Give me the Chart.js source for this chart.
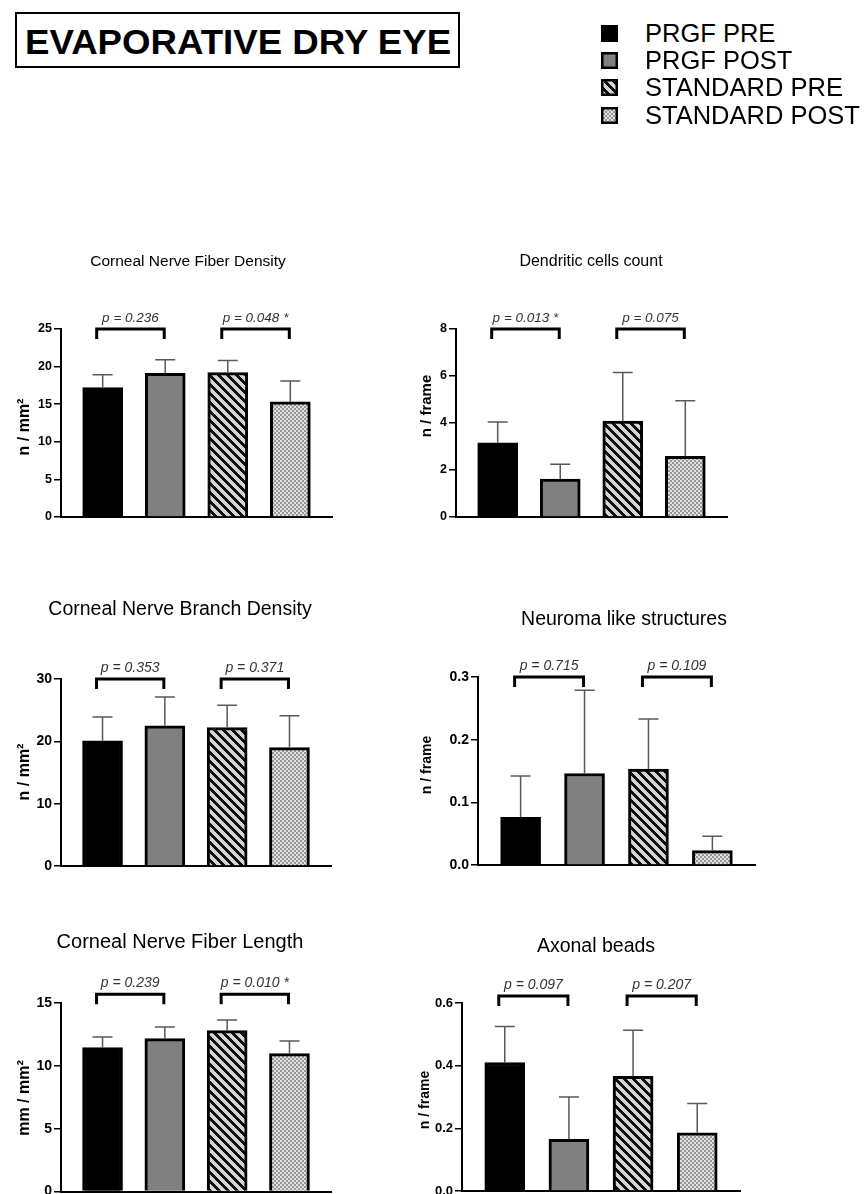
<!DOCTYPE html>
<html><head><meta charset="utf-8">
<script src="https://cdn.jsdelivr.net/npm/chart.js@4.4.1/dist/chart.umd.min.js"></script>
<style>
html,body{margin:0;padding:0;background:#fff;}
body{width:868px;height:1194px;overflow:hidden;position:relative;font-family:"Liberation Sans",Arial,Helvetica,sans-serif;}
#mainTitle{position:absolute;left:15px;top:12px;width:441px;height:52px;border:2px solid #000;overflow:hidden;}
#mainTitle span{position:absolute;left:0;top:50%;font-weight:bold;font-size:35px;white-space:nowrap;line-height:1;transform-origin:0 50%;}
.leg{position:absolute;left:601px;height:28px;display:flex;align-items:center;font-size:25.5px;white-space:nowrap;color:#000;}
.leg canvas{width:17px;height:17px;margin-right:27px;}
canvas.panel{position:absolute;}
</style></head>
<body>
<div id="mainTitle"><span id="mt">EVAPORATIVE DRY EYE</span></div>
<div id="legend"></div>
<canvas class="panel" id="c1"></canvas>
<canvas class="panel" id="c2"></canvas>
<canvas class="panel" id="c3"></canvas>
<canvas class="panel" id="c4"></canvas>
<canvas class="panel" id="c5"></canvas>
<canvas class="panel" id="c6"></canvas>
<script>
// ---------- DATA ----------
const groups = ['PRGF PRE', 'PRGF POST', 'STANDARD PRE', 'STANDARD POST'];

const cnfdMean = [17.2, 19.1, 19.2, 15.3];
const cnfdSD   = [1.7, 1.8, 1.6, 2.8];
const cnfdTicks = [0, 5, 10, 15, 20, 25];
const cnfdP = ['p = 0.236', 'p = 0.048 *'];

const dcMean = [3.16, 1.61, 4.08, 2.58];
const dcSD   = [0.88, 0.64, 2.07, 2.37];
const dcTicks = [0, 2, 4, 6, 8];
const dcP = ['p = 0.013 *', 'p = 0.075'];

const cnbdMean = [20.1, 22.5, 22.2, 19.0];
const cnbdSD   = [3.8, 4.6, 3.6, 5.1];
const cnbdTicks = [0, 10, 20, 30];
const cnbdP = ['p = 0.353', 'p = 0.371'];

const nlsMean = [0.076, 0.146, 0.153, 0.023];
const nlsSD   = [0.066, 0.133, 0.080, 0.023];
const nlsTicks = [0, 0.1, 0.2, 0.3];
const nlsP = ['p = 0.715', 'p = 0.109'];

const cnflMean = [11.45, 12.17, 12.8, 10.97];
const cnflSD   = [0.85, 0.93, 0.85, 1.01];
const cnflTicks = [0, 5, 10, 15];
const cnflP = ['p = 0.239', 'p = 0.010 *'];

const abMean = [0.41, 0.165, 0.366, 0.186];
const abSD   = [0.115, 0.135, 0.147, 0.093];
const abTicks = [0, 0.2, 0.4, 0.6];
const abP = ['p = 0.097', 'p = 0.207'];

const pairs = [[0, 1], [2, 3]];

// ---------- STYLE / LAYOUT ----------
const FONT = '"Liberation Sans", Arial, Helvetica, sans-serif';

function stripeTile() {
  const s = 9, c = document.createElement('canvas'); c.width = s; c.height = s;
  const x = c.getContext('2d'); const img = x.createImageData(s, s);
  for (let j = 0; j < s; j++) for (let i = 0; i < s; i++) {
    const d = ((i - j) % s + s) % s; const k = (j * s + i) * 4;
    const v = d < 4 ? 15 : 212;
    img.data[k] = img.data[k + 1] = img.data[k + 2] = v; img.data[k + 3] = 255;
  }
  x.putImageData(img, 0, 0); return c;
}
function checkerTile() {
  const c = document.createElement('canvas'); c.width = 4; c.height = 4;
  const x = c.getContext('2d');
  x.fillStyle = '#e2e2e2'; x.fillRect(0, 0, 4, 4);
  x.fillStyle = '#969696'; x.fillRect(0, 0, 2, 2); x.fillRect(2, 2, 2, 2);
  return c;
}
const sTile = stripeTile(), cTile = checkerTile();
function fillsFor(ctx) {
  return ['#000000', '#808080', ctx.createPattern(sTile, 'repeat'), ctx.createPattern(cTile, 'repeat')];
}

// main title fit
(function () {
  const sp = document.getElementById('mt');
  const w = sp.offsetWidth, h = sp.offsetHeight;
  const target = 426;
  sp.style.left = ((441 - target) / 2) + 'px';
  sp.style.marginTop = (-h / 2 + 1) + 'px';
  sp.style.transform = 'scaleX(' + (target / w) + ')';
})();

// legend
(function () {
  const lg = document.getElementById('legend');
  const centers = [33, 60, 87, 115];
  groups.forEach((g, i) => {
    const d = document.createElement('div'); d.className = 'leg'; d.style.top = (centers[i] - 14) + 'px';
    const c = document.createElement('canvas'); c.width = 17; c.height = 17;
    const x = c.getContext('2d');
    x.fillStyle = fillsFor(x)[i]; x.fillRect(0, 0, 17, 17);
    x.strokeStyle = '#000'; x.lineWidth = 2.5; x.strokeRect(1.25, 1.25, 14.5, 14.5);
    d.appendChild(c);
    const t = document.createElement('span'); t.textContent = g; d.appendChild(t);
    lg.appendChild(d);
  });
})();

const panels = [
  { id: 'c1', mean: cnfdMean, sd: cnfdSD, ticks: cnfdTicks, p: cnfdP, dec: 0, title: 'Corneal Nerve Fiber Density', ylab: 'n / mm²',
    cv: [0, 230, 345, 310], area: [61, 332, 329, 517], bracketAt: 25, titleXY: [188, 262], titleSize: 15.5, ylabXY: [25, 427], tickSize: 12.5, pSize: 13.5, ylabSize: 16 },
  { id: 'c2', mean: dcMean, sd: dcSD, ticks: dcTicks, p: dcP, dec: 0, title: 'Dendritic cells count', ylab: 'n / frame',
    cv: [400, 230, 468, 310], area: [456, 727, 329, 517], bracketAt: 8, titleXY: [591, 262], titleSize: 16, ylabXY: [427, 406], tickSize: 12.5, pSize: 13.5, ylabSize: 15 },
  { id: 'c3', mean: cnbdMean, sd: cnbdSD, ticks: cnbdTicks, p: cnbdP, dec: 0, title: 'Corneal Nerve Branch Density', ylab: 'n / mm²',
    cv: [0, 580, 345, 310], area: [61, 331, 679, 866], bracketAt: 30, titleXY: [180, 610], titleSize: 19.5, ylabXY: [25, 772], tickSize: 14, pSize: 14, ylabSize: 16 },
  { id: 'c4', mean: nlsMean, sd: nlsSD, ticks: nlsTicks, p: nlsP, dec: 1, title: 'Neuroma like structures', ylab: 'n / frame',
    cv: [400, 580, 468, 310], area: [478, 755, 677, 865], bracketAt: 0.3, titleXY: [624, 620], titleSize: 19.5, ylabXY: [427, 765], tickSize: 14, pSize: 14, ylabSize: 14 },
  { id: 'c5', mean: cnflMean, sd: cnflSD, ticks: cnflTicks, p: cnflP, dec: 0, title: 'Corneal Nerve Fiber Length', ylab: 'mm / mm²',
    cv: [0, 910, 345, 310], area: [61, 331, 1003, 1191.5], bracketAt: 15.7, titleXY: [180, 942], titleSize: 20, ylabXY: [25, 1098], tickSize: 14, pSize: 14, ylabSize: 16 },
  { id: 'c6', mean: abMean, sd: abSD, ticks: abTicks, p: abP, dec: 1, title: 'Axonal beads', ylab: 'n / frame',
    cv: [400, 910, 468, 310], area: [462, 740, 1003, 1191], bracketAt: 0.622, titleXY: [596, 947], titleSize: 19.5, ylabXY: [425, 1100], tickSize: 13, pSize: 14, ylabSize: 14 }
];

function decor(p) {
  const cl = p.cv[0], ct = p.cv[1];
  return {
    id: 'decor',
    afterDraw(chart) {
      const { ctx, scales: { x, y } } = chart;
      ctx.save();
      // error bars (mean + SD)
      ctx.strokeStyle = '#595959'; ctx.lineWidth = 1.5;
      p.mean.forEach((m, i) => {
        const cx = x.getPixelForValue(i + 1);
        const y0 = y.getPixelForValue(m), y1 = y.getPixelForValue(m + p.sd[i]);
        ctx.beginPath(); ctx.moveTo(cx, y0); ctx.lineTo(cx, y1);
        ctx.moveTo(cx - 10, y1); ctx.lineTo(cx + 10, y1); ctx.stroke();
      });
      // brackets + p values
      const yb = y.getPixelForValue(p.bracketAt);
      pairs.forEach((pr, k) => {
        const l = x.getPixelForValue(pr[0] + 1) - 6, r = x.getPixelForValue(pr[1] + 1) - 1;
        ctx.strokeStyle = '#000'; ctx.lineWidth = 3; ctx.lineJoin = 'miter'; ctx.lineCap = 'butt';
        ctx.beginPath(); ctx.moveTo(l, yb + 10); ctx.lineTo(l, yb); ctx.lineTo(r, yb); ctx.lineTo(r, yb + 10); ctx.stroke();
        ctx.fillStyle = '#333'; ctx.font = 'italic ' + p.pSize + 'px ' + FONT;
        ctx.textAlign = 'center'; ctx.textBaseline = 'alphabetic';
        ctx.fillText(p.p[k], (l + r) / 2, yb - 7);
      });
      // panel title
      ctx.fillStyle = '#000'; ctx.font = p.titleSize + 'px ' + FONT;
      ctx.textAlign = 'center'; ctx.textBaseline = 'middle';
      ctx.fillText(p.title, p.titleXY[0] - cl, p.titleXY[1] - ct);
      // y axis title
      ctx.translate(p.ylabXY[0] - cl, p.ylabXY[1] - ct);
      ctx.rotate(-Math.PI / 2);
      ctx.font = 'bold ' + p.ylabSize + 'px ' + FONT;
      ctx.fillText(p.ylab, 0, 0);
      ctx.restore();
    }
  };
}

panels.forEach(p => {
  const cv = document.getElementById(p.id);
  const [cl, ct, cw, ch] = p.cv;
  cv.width = cw; cv.height = ch;
  cv.style.left = cl + 'px'; cv.style.top = ct + 'px';
  cv.style.width = cw + 'px'; cv.style.height = ch + 'px';
  const [L, R, T, B] = p.area;
  const axisW = L - cl;
  const ctx = cv.getContext('2d');
  new Chart(ctx, {
    type: 'bar',
    data: {
      labels: groups,
      datasets: [{
        label: p.title,
        data: p.mean.map((v, i) => ({ x: i + 1, y: v })),
        backgroundColor: fillsFor(ctx),
        borderColor: '#000',
        borderWidth: 3,
        borderSkipped: 'start',
        barThickness: 40
      }]
    },
    options: {
      responsive: false, animation: false, devicePixelRatio: 1,
      layout: { padding: { left: 0, right: cl + cw - R, top: T - ct, bottom: ct + ch - B } },
      plugins: { legend: { display: false }, tooltip: { enabled: false }, title: { display: false } },
      scales: {
        x: {
          type: 'linear', min: 1 / 3, max: 14 / 3, offset: false,
          ticks: { display: false }, grid: { display: false, drawTicks: false, offset: false },
          border: { display: true, color: '#000', width: 2 },
          afterFit(s) { s.height = 0; }
        },
        y: {
          min: p.ticks[0], max: p.ticks[p.ticks.length - 1],
          afterBuildTicks(s) { s.ticks = p.ticks.map(v => ({ value: v })); },
          afterFit(s) { s.width = axisW; },
          ticks: { color: '#000', padding: 2, font: { family: FONT, size: p.tickSize, weight: 'bold' },
                   callback: v => Number(v).toFixed(p.dec) },
          grid: { drawOnChartArea: false, drawTicks: true, tickLength: 7, color: '#000', lineWidth: 1.5 },
          border: { display: true, color: '#000', width: 2 }
        }
      }
    },
    plugins: [decor(p)]
  });
});
</script>
</body></html>
